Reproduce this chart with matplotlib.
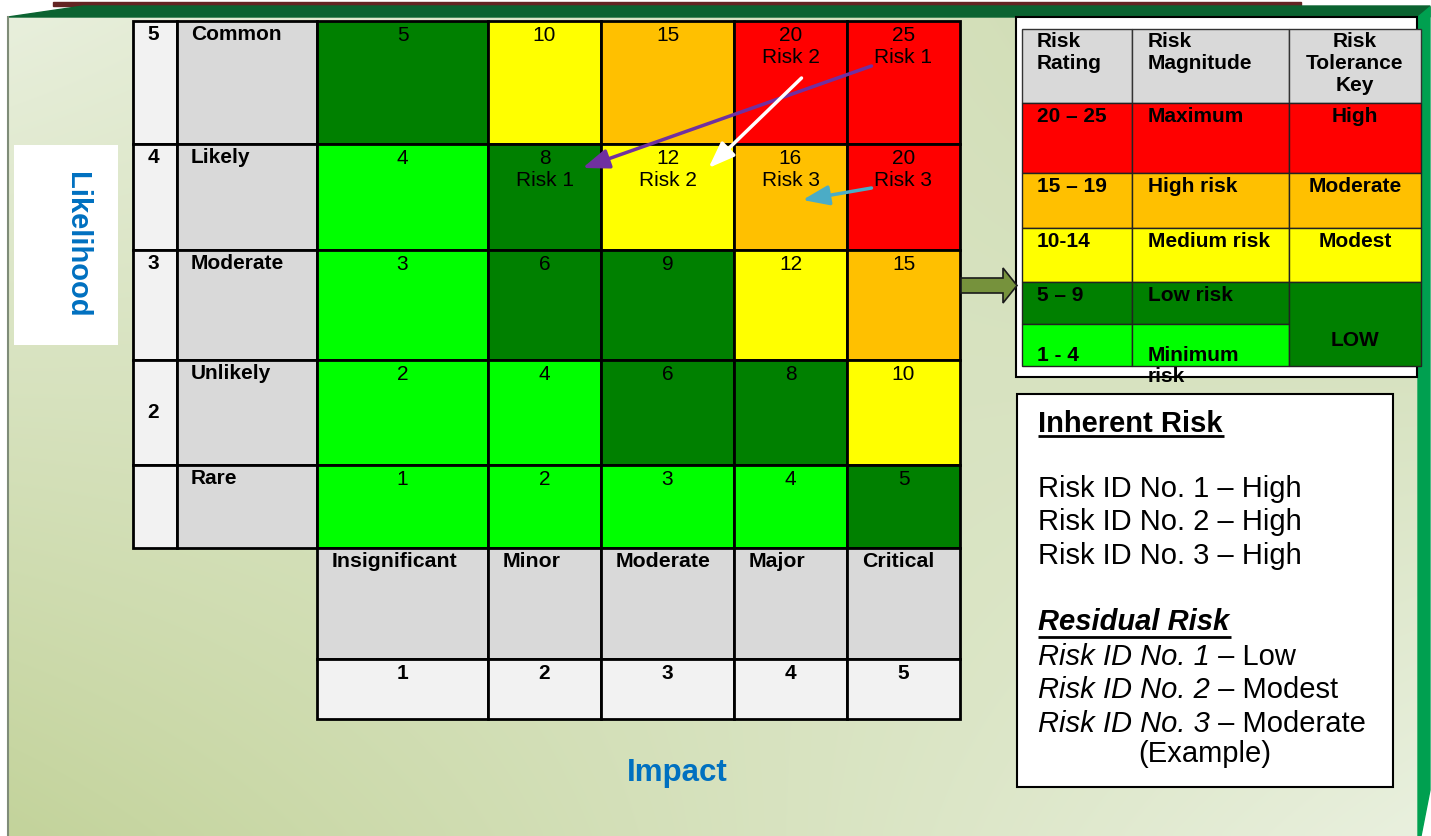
import matplotlib.pyplot as plt
import matplotlib.patches as mpatches
import numpy as np

plt.rcParams['font.family'] = ['Liberation Sans', 'DejaVu Sans']

# likelihood rows (top to bottom) and impact columns
likelihood_nums = ['5', '4', '3', '2', '']
likelihood_names = ['Common', 'Likely', 'Moderate', 'Unlikely', 'Rare']
impact_names = ['Insignificant', 'Minor', 'Moderate', 'Major', 'Critical']
impact_nums = ['1', '2', '3', '4', '5']
scores = [[5, 10, 15, 20, 25],
          [4, 8, 12, 16, 20],
          [3, 6, 9, 12, 15],
          [2, 4, 6, 8, 10],
          [1, 2, 3, 4, 5]]

# where each risk sits before and after controls, as (row, col)
risk_names = ['Risk 1', 'Risk 2', 'Risk 3']
inherent_cells = [(0, 4), (0, 3), (1, 4)]
residual_cells = [(1, 1), (1, 2), (1, 3)]
inherent_levels = ['High', 'High', 'High']
residual_levels = ['Low', 'Modest', 'Moderate']

# rating bands for the key
band_ranges = ['20 – 25', '15 – 19', '10-14', '5 – 9', '1 - 4']
band_low = [20, 15, 10, 5, 1]
band_magnitude = ['Maximum', 'High risk', 'Medium risk', 'Low risk', 'Minimum\nrisk']
band_tolerance = ['High', 'Moderate', 'Modest', 'LOW']
band_colors = ['#ff0000', '#ffc000', '#ffff00', '#008000', '#00ff00']

BLUE = '#0070c0'
W, H = 1431, 836

fig = plt.figure(figsize=(W / 100, H / 100), dpi=100)
ax = fig.add_axes([0, 0, 1, 1])


def band_color(score):
    for low, c in zip(band_low, band_colors):
        if score >= low:
            return c
    return band_colors[-1]


def cell(x0, y0, x1, y1, fc, lw=2.0, ec='black', z=2):
    ax.add_patch(mpatches.Rectangle((x0, y0), x1 - x0, y1 - y0, fc=fc, ec=ec, lw=lw, zorder=z))


# background panel with a soft diagonal gradient
tl = np.array([232, 239, 220])
tr = np.array([202, 216, 170])
bl = np.array([195, 211, 155])
br = np.array([233, 240, 222])
u = np.linspace(0, 1, 300)[None, :, None]
v = np.linspace(0, 1, 200)[:, None, None]
grad = ((1 - u) * (1 - v) * tl + u * (1 - v) * tr + (1 - u) * v * bl + u * v * br) / 255
ax.imshow(grad, extent=(8, 1418, 836, 17), aspect='auto', zorder=0, interpolation='bilinear')

# frame bands
ax.add_patch(mpatches.Rectangle((53, 2), 1248, 4, color='#632523', zorder=1))
ax.add_patch(mpatches.Polygon([(8, 17), (83, 6), (1430, 6), (1430, 17)], closed=True,
                              color='#0b6331', zorder=1))
ax.add_patch(mpatches.Polygon([(1418, 17), (1430, 7), (1430, 790), (1421, 836), (1418, 836)],
                              closed=True, color='#00a050', zorder=1))
ax.plot([8, 8], [17, 836], color='#7f8c78', lw=1.5, zorder=1)

# risk matrix
col_edges = [317, 488, 601, 734, 847, 960]
row_edges = [21, 144, 250, 360, 465, 548]

cell_text = [[str(s) for s in row] for row in scores]
for name, (r, c) in zip(risk_names, inherent_cells):
    cell_text[r][c] += '\n' + name
for name, (r, c) in zip(risk_names, residual_cells):
    cell_text[r][c] += '\n' + name

for r in range(5):
    y0, y1 = row_edges[r], row_edges[r + 1]
    cell(133, y0, 177, y1, '#f2f2f2')
    cell(177, y0, 317, y1, '#d9d9d9')
    if r == 3:
        ax.text(153, (y0 + y1) / 2, likelihood_nums[r], ha='center', va='center',
                fontsize=15, fontweight='bold', zorder=4)
    else:
        ax.text(153, y0 + 4, likelihood_nums[r], ha='center', va='top',
                fontsize=15, fontweight='bold', zorder=4)
    ax.text(191, y0 + 4, likelihood_names[r], ha='left', va='top',
            fontsize=15, fontweight='bold', zorder=4)
    for c in range(5):
        x0, x1 = col_edges[c], col_edges[c + 1]
        cell(x0, y0, x1, y1, band_color(scores[r][c]))
        ax.text((x0 + x1) / 2, y0 + 5, cell_text[r][c], ha='center', va='top',
                fontsize=15, zorder=4, linespacing=1.2)

# impact axis table
for c in range(5):
    x0, x1 = col_edges[c], col_edges[c + 1]
    cell(x0, 548, x1, 659, '#d9d9d9')
    cell(x0, 659, x1, 719, '#f2f2f2')
    ax.text(x0 + 15, 552, impact_names[c], ha='left', va='top',
            fontsize=15.3, fontweight='bold', zorder=4)
    ax.text((x0 + x1) / 2, 664, impact_nums[c], ha='center', va='top',
            fontsize=15, fontweight='bold', zorder=4)

# arrows from inherent to residual positions
arrow_colors = ['#7030a0', 'white', '#4bacc6']
start_offsets = [(-32, 7), (11, 19), (-32, 6)]
end_offsets = [(38, -14), (41, -14), (12, 18)]


def label_center(r, c):
    return ((col_edges[c] + col_edges[c + 1]) / 2, row_edges[r] + 38)


for k in range(len(risk_names)):
    sx, sy = label_center(*inherent_cells[k])
    ex, ey = label_center(*residual_cells[k])
    ax.annotate('', xy=(ex + end_offsets[k][0], ey + end_offsets[k][1]),
                xytext=(sx + start_offsets[k][0], sy + start_offsets[k][1]),
                arrowprops=dict(arrowstyle='-|>,head_length=0.8,head_width=0.3',
                                color=arrow_colors[k], lw=2.5, mutation_scale=20,
                                shrinkA=0, shrinkB=0), zorder=5)

# axis titles
cell(14, 145, 118, 345, 'white', lw=0, ec='none', z=2)
ax.text(77, 245, 'Likelihood', rotation=270, ha='center', va='center', color=BLUE,
        fontsize=21, fontweight='bold', zorder=4)
ax.text(677, 773, 'Impact', ha='center', va='center', color=BLUE,
        fontsize=22.5, fontweight='bold', zorder=4)

# pointer to the key
ax.add_patch(mpatches.FancyArrow(961, 285.5, 56, 0, width=15, head_width=35, head_length=14,
                                 length_includes_head=True, fc='#76923c', ec='#1a1a1a',
                                 lw=1.2, zorder=3))

# key table
cell(1016, 17, 1417, 377, 'white', lw=1.5, z=2)
kx = [1022, 1132, 1289, 1421]
ky = [29, 103, 173, 228, 282, 324, 366]
key_head = ['Risk\nRating', 'Risk\nMagnitude', 'Risk\nTolerance\nKey']
for j in range(3):
    cell(kx[j], ky[0], kx[j + 1], ky[1], '#d9d9d9', lw=1.0, ec='#333333', z=3)
ax.text(kx[0] + 15, ky[0] + 3, key_head[0], ha='left', va='top', fontsize=15,
        fontweight='bold', zorder=4)
ax.text(kx[1] + 16, ky[0] + 3, key_head[1], ha='left', va='top', fontsize=15,
        fontweight='bold', zorder=4)
ax.text((kx[2] + kx[3]) / 2, ky[0] + 3, key_head[2], ha='center', va='top', fontsize=15,
        fontweight='bold', zorder=4)

for i in range(5):
    y0, y1 = ky[i + 1], ky[i + 2]
    cell(kx[0], y0, kx[1], y1, band_colors[i], lw=1.0, ec='#222222', z=3)
    cell(kx[1], y0, kx[2], y1, band_colors[i], lw=1.0, ec='#222222', z=3)
    ty = y0 + 4 if i < 4 else y0 + 22
    ax.text(kx[0] + 15, ty, band_ranges[i], ha='left', va='top', fontsize=15,
            fontweight='bold', zorder=4)
    ax.text(kx[1] + 16, ty, band_magnitude[i], ha='left', va='top', fontsize=15,
            fontweight='bold', zorder=4, linespacing=1.1)
for i in range(3):
    y0, y1 = ky[i + 1], ky[i + 2]
    cell(kx[2], y0, kx[3], y1, band_colors[i], lw=1.0, ec='#222222', z=3)
    ax.text((kx[2] + kx[3]) / 2, y0 + 4, band_tolerance[i], ha='center', va='top',
            fontsize=15, fontweight='bold', zorder=4)
cell(kx[2], ky[4], kx[3], ky[6], band_colors[3], lw=1.0, ec='#222222', z=3)
ax.text((kx[2] + kx[3]) / 2, 340, band_tolerance[3], ha='center', va='center',
        fontsize=15, fontweight='bold', zorder=4)

# inherent / residual summary box
cell(1017, 394, 1393, 787, 'white', lw=1.5, z=2)
tx = 1038
fig.canvas.draw()
renderer = fig.canvas.get_renderer()
inv = ax.transData.inverted()


def underline(t, y, trim=7):
    bb = t.get_window_extent(renderer)
    x0 = inv.transform((bb.x0, 0))[0]
    x1 = inv.transform((bb.x1, 0))[0] - trim
    ax.plot([x0, x1], [y, y], color='black', lw=2, zorder=4, solid_capstyle='butt')


h1 = ax.text(tx, 432, 'Inherent Risk', ha='left', va='baseline', fontsize=21,
             fontweight='bold', zorder=4)
underline(h1, 436)
for k in range(3):
    ax.text(tx, 497 + 33.5 * k, f'Risk ID No. {k + 1} – {inherent_levels[k]}', ha='left',
            va='baseline', fontsize=21, zorder=4)

h2 = ax.text(tx, 630, 'Residual Risk', ha='left', va='baseline', fontsize=21,
             fontweight='bold', fontstyle='italic', zorder=4)
underline(h2, 637)
for k in range(3):
    t = ax.text(tx, 665 + 33.5 * k, f'Risk ID No. {k + 1}', ha='left', va='baseline',
                fontsize=21, fontstyle='italic', zorder=4)
    ax.annotate(f' – {residual_levels[k]}', xy=(1, 0), xycoords=t, ha='left',
                va='bottom', fontsize=21, zorder=4)
ax.text(1205, 762, '(Example)', ha='center', va='baseline', fontsize=21, zorder=4)

ax.set_xlim(0, W)
ax.set_ylim(H, 0)
ax.axis('off')
fig.savefig('out.png', dpi=100, facecolor='white')
